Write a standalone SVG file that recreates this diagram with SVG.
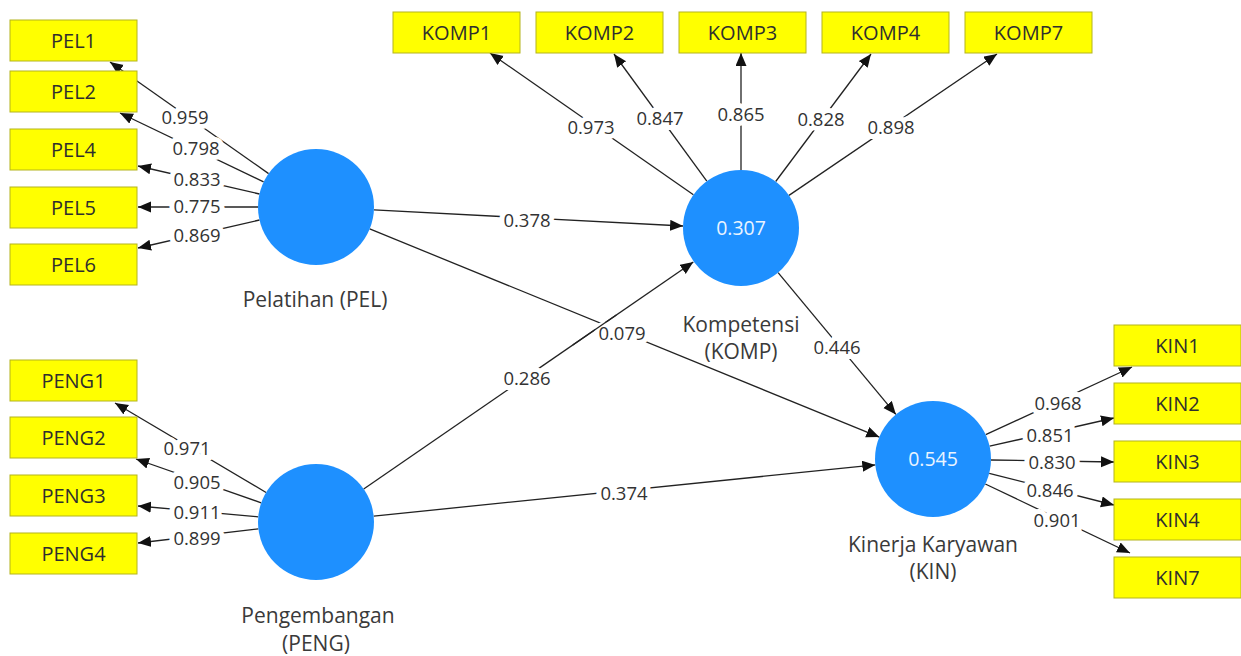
<svg xmlns="http://www.w3.org/2000/svg" width="1241" height="656" viewBox="0 0 1241 656">
<style>
.bg{fill:#ffffff}
.box{fill:#ffff00;stroke:#b4b41e;stroke-width:1}
.btxt{font-family:"Open Sans","Noto Sans",sans-serif;font-size:20px;fill:#2e2e2e;text-anchor:middle}
.lv{fill:#1e90ff}
.ltxt{font-family:"Open Sans","Noto Sans",sans-serif;font-size:21px;fill:#3a3a3a;text-anchor:middle}
.vtxt{font-family:"Open Sans","Noto Sans",sans-serif;font-size:19.5px;fill:#eaf4ff;text-anchor:middle}
.edge{stroke:#222;stroke-width:1.3;fill:none;marker-end:url(#ah)}
.seg{stroke:#222;stroke-width:1.3;fill:none}
.lbl{font-family:"Open Sans","Noto Sans",sans-serif;font-size:18.5px;fill:#333;text-anchor:middle;paint-order:stroke;stroke:#ffffff;stroke-width:10px;stroke-linejoin:miter}
</style>
<defs>
<marker id="ah" markerUnits="userSpaceOnUse" markerWidth="14" markerHeight="12" refX="13" refY="5.5" orient="auto">
<path d="M0,0 L13,5.5 L0,11 z" fill="#111"/>
</marker>
</defs>
<rect class="bg" x="0" y="0" width="1241" height="656"/>
<g id="connectors">
<line class="edge" x1="268.6" y1="173.6" x2="110" y2="62"/>
<line class="edge" x1="263.6" y1="181.9" x2="120" y2="113"/>
<line class="edge" x1="259.5" y1="194" x2="138" y2="166"/>
<line class="edge" x1="258" y1="207" x2="138" y2="207"/>
<line class="edge" x1="259.5" y1="220" x2="138" y2="248"/>
<line class="edge" x1="266.1" y1="492.5" x2="115" y2="403"/>
<line class="edge" x1="261.2" y1="502.8" x2="136" y2="459"/>
<line class="edge" x1="258.2" y1="516.8" x2="138" y2="506"/>
<line class="edge" x1="258.4" y1="528.8" x2="138" y2="543"/>
<line class="edge" x1="693.4" y1="194.8" x2="490" y2="53"/>
<line class="edge" x1="706.8" y1="181.1" x2="614" y2="54"/>
<line class="edge" x1="741" y1="170" x2="741" y2="53"/>
<line class="edge" x1="775.7" y1="181.5" x2="871" y2="54"/>
<line class="edge" x1="789" y1="195.4" x2="997" y2="54"/>
<line class="edge" x1="985.7" y1="434.7" x2="1132" y2="367"/>
<line class="edge" x1="989.6" y1="446.2" x2="1114" y2="418"/>
<line class="edge" x1="991" y1="460" x2="1114" y2="462"/>
<line class="edge" x1="989.2" y1="473.3" x2="1114" y2="505"/>
<line class="edge" x1="985.3" y1="484" x2="1130" y2="553"/>
<line class="edge" x1="373.9" y1="209.9" x2="683.1" y2="226"/>
<line class="edge" x1="369.7" y1="228.9" x2="879.3" y2="437.1"/>
<line class="edge" x1="363.7" y1="489" x2="693.3" y2="262"/>
<line class="edge" x1="373.7" y1="516.1" x2="875.3" y2="464.9"/>
<line class="edge" x1="778.1" y1="272.6" x2="895.9" y2="414.4"/>
<text class="lbl" x="185" y="124">0.959</text>
<text class="lbl" x="196" y="155">0.798</text>
<text class="lbl" x="197" y="186">0.833</text>
<text class="lbl" x="197" y="213">0.775</text>
<text class="lbl" x="197" y="242">0.869</text>
<text class="lbl" x="187" y="455">0.971</text>
<text class="lbl" x="197" y="489">0.905</text>
<text class="lbl" x="197" y="519">0.911</text>
<text class="lbl" x="197" y="545">0.899</text>
<text class="lbl" x="591" y="134">0.973</text>
<text class="lbl" x="660" y="125">0.847</text>
<text class="lbl" x="741" y="121">0.865</text>
<text class="lbl" x="821" y="126">0.828</text>
<text class="lbl" x="891" y="134">0.898</text>
<text class="lbl" x="1058" y="410">0.968</text>
<text class="lbl" x="1050" y="442">0.851</text>
<text class="lbl" x="1052" y="469">0.830</text>
<text class="lbl" x="1050" y="497">0.846</text>
<text class="lbl" x="1057" y="527">0.901</text>
<text class="lbl" x="527" y="227">0.378</text>
<text class="lbl" x="622" y="340">0.079</text>
<text class="lbl" x="527" y="385">0.286</text>
<text class="lbl" x="837" y="354">0.446</text>
<text class="lbl" x="624" y="500">0.374</text>
<line class="seg" x1="572.8" y1="345" x2="616.3" y2="315"/>
</g>
<g id="PEL">
<circle class="lv" cx="316" cy="207" r="58"/>
<text class="ltxt" x="315" y="307">Pelatihan (PEL)</text>
</g>
<g id="PENG">
<circle class="lv" cx="316" cy="522" r="58"/>
<text class="ltxt" x="318" y="623">Pengembangan</text>
<text class="ltxt" x="316" y="651">(PENG)</text>
</g>
<g id="KOMP">
<circle class="lv" cx="741" cy="228" r="58"/>
<text class="vtxt" x="741" y="235">0.307</text>
<text class="ltxt" x="741" y="332">Kompetensi</text>
<text class="ltxt" x="741" y="359">(KOMP)</text>
</g>
<g id="KIN">
<circle class="lv" cx="933" cy="459" r="58"/>
<text class="vtxt" x="933" y="466">0.545</text>
<text class="ltxt" x="933" y="552">Kinerja Karyawan</text>
<text class="ltxt" x="933" y="579">(KIN)</text>
</g>
<g id="PEL1"><rect class="box" x="10" y="20" width="127" height="41"/><text class="btxt" x="73.5" y="48">PEL1</text></g>
<g id="PEL2"><rect class="box" x="10" y="71" width="127" height="41"/><text class="btxt" x="73.5" y="99">PEL2</text></g>
<g id="PEL4"><rect class="box" x="10" y="129" width="127" height="41"/><text class="btxt" x="73.5" y="157">PEL4</text></g>
<g id="PEL5"><rect class="box" x="10" y="187" width="127" height="41"/><text class="btxt" x="73.5" y="215">PEL5</text></g>
<g id="PEL6"><rect class="box" x="10" y="244" width="127" height="41"/><text class="btxt" x="73.5" y="272">PEL6</text></g>
<g id="PENG1"><rect class="box" x="10" y="360" width="127" height="41"/><text class="btxt" x="73.5" y="388">PENG1</text></g>
<g id="PENG2"><rect class="box" x="10" y="417" width="127" height="41"/><text class="btxt" x="73.5" y="445">PENG2</text></g>
<g id="PENG3"><rect class="box" x="10" y="475" width="127" height="41"/><text class="btxt" x="73.5" y="503">PENG3</text></g>
<g id="PENG4"><rect class="box" x="10" y="533" width="127" height="41"/><text class="btxt" x="73.5" y="561">PENG4</text></g>
<g id="KOMP1"><rect class="box" x="393" y="12" width="127" height="41"/><text class="btxt" x="456.5" y="40">KOMP1</text></g>
<g id="KOMP2"><rect class="box" x="536" y="12" width="127" height="41"/><text class="btxt" x="599.5" y="40">KOMP2</text></g>
<g id="KOMP3"><rect class="box" x="679" y="12" width="127" height="41"/><text class="btxt" x="742.5" y="40">KOMP3</text></g>
<g id="KOMP4"><rect class="box" x="822" y="12" width="127" height="41"/><text class="btxt" x="885.5" y="40">KOMP4</text></g>
<g id="KOMP7"><rect class="box" x="965" y="12" width="127" height="41"/><text class="btxt" x="1028.5" y="40">KOMP7</text></g>
<g id="KIN1"><rect class="box" x="1114" y="325" width="127" height="41"/><text class="btxt" x="1177.5" y="353">KIN1</text></g>
<g id="KIN2"><rect class="box" x="1114" y="383" width="127" height="41"/><text class="btxt" x="1177.5" y="411">KIN2</text></g>
<g id="KIN3"><rect class="box" x="1114" y="441" width="127" height="41"/><text class="btxt" x="1177.5" y="469">KIN3</text></g>
<g id="KIN4"><rect class="box" x="1114" y="499" width="127" height="41"/><text class="btxt" x="1177.5" y="527">KIN4</text></g>
<g id="KIN7"><rect class="box" x="1114" y="557" width="127" height="41"/><text class="btxt" x="1177.5" y="585">KIN7</text></g>
</svg>
